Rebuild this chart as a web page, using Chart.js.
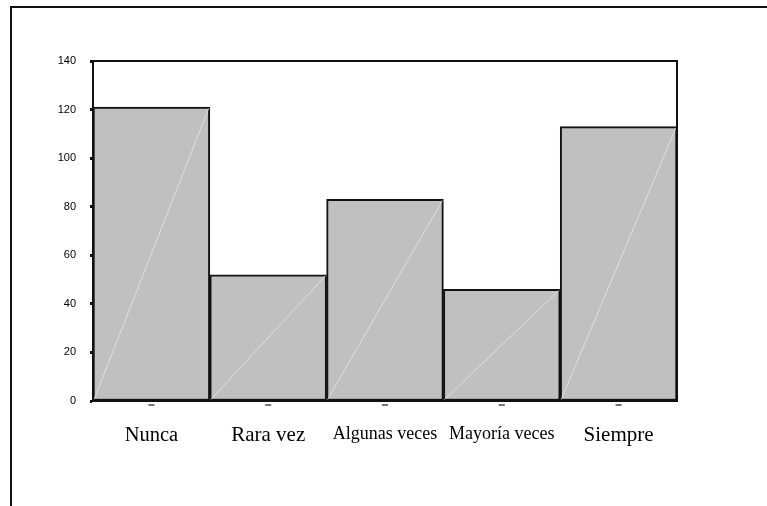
<!DOCTYPE html>
<html>
<head>
<meta charset="utf-8">
<script src="https://cdn.jsdelivr.net/npm/chart.js@4.4.0/dist/chart.umd.min.js"></script>
<style>
  html, body { margin: 0; padding: 0; background: #fff; }
  #wrap { position: relative; width: 767px; height: 506px; }
</style>
</head>
<body>
<div id="wrap"><canvas id="chart"></canvas></div>
<script>
const categories = ["Nunca", "Rara vez", "Algunas veces", "Mayoría veces", "Siempre"];
const counts = [121, 52, 83, 46, 113];
const labelSizes = [20.5, 21, 18, 18, 21];

// frame, plot border, diagonals and small x ticks
const decor = {
  id: "decor",
  beforeDraw(chart) {
    const ctx = chart.ctx;
    ctx.save();
    ctx.strokeStyle = "#111";
    ctx.lineWidth = 2;
    ctx.beginPath();
    ctx.moveTo(11, 506);
    ctx.lineTo(11, 7);
    ctx.lineTo(767, 7);
    ctx.stroke();
    ctx.restore();
  },
  afterDatasetsDraw(chart) {
    const ctx = chart.ctx;
    const area = chart.chartArea;
    ctx.save();
    chart.getDatasetMeta(0).data.forEach(bar => {
      const half = bar.width / 2;
      ctx.strokeStyle = "rgba(235,235,235,0.7)";
      ctx.lineWidth = 1;
      ctx.beginPath();
      ctx.moveTo(bar.x - half + 1, bar.base - 1);
      ctx.lineTo(bar.x + half - 1, bar.y + 1);
      ctx.stroke();
    });
    ctx.strokeStyle = "#111";
    ctx.lineWidth = 2;
    ctx.strokeRect(area.left, area.top, area.right - area.left, area.bottom - area.top);
    const xs = chart.scales.x;
    ctx.fillStyle = "#777";
    xs.ticks.forEach((t, i) => {
      const px = xs.getPixelForTick(i);
      ctx.fillRect(px - 3, area.bottom + 3, 6, 2);
    });
    ctx.restore();
  }
};

new Chart(document.getElementById("chart"), {
  type: "bar",
  data: {
    labels: categories,
    datasets: [{
      data: counts,
      backgroundColor: "#c0c0c0",
      borderColor: "#111",
      borderWidth: 2,
      borderSkipped: false,
      categoryPercentage: 1,
      barPercentage: 1
    }]
  },
  options: {
    responsive: true,
    maintainAspectRatio: false,
    animation: false,
    layout: { padding: { top: 61, right: 90, left: 0, bottom: 0 } },
    plugins: {
      legend: { display: false },
      tooltip: { enabled: false }
    },
    scales: {
      x: {
        grid: { display: false },
        border: { color: "#111", width: 2 },
        ticks: {
          color: "#000",
          padding: 14,
          font: ctx => ({ family: "'Liberation Serif', 'Times New Roman', serif", size: labelSizes[ctx.index] || 18 })
        },
        afterFit: s => { s.height = 105; }
      },
      y: {
        min: 0,
        max: 140,
        grid: { drawOnChartArea: false, color: "#111", tickLength: 3, tickWidth: 3 },
        border: { color: "#111", width: 2 },
        ticks: {
          stepSize: 20,
          color: "#000",
          padding: 14,
          font: { family: "'Liberation Sans', Arial, sans-serif", size: 11 }
        },
        afterFit: s => { s.width = 93; }
      }
    }
  },
  plugins: [decor]
});
</script>
</body>
</html>
